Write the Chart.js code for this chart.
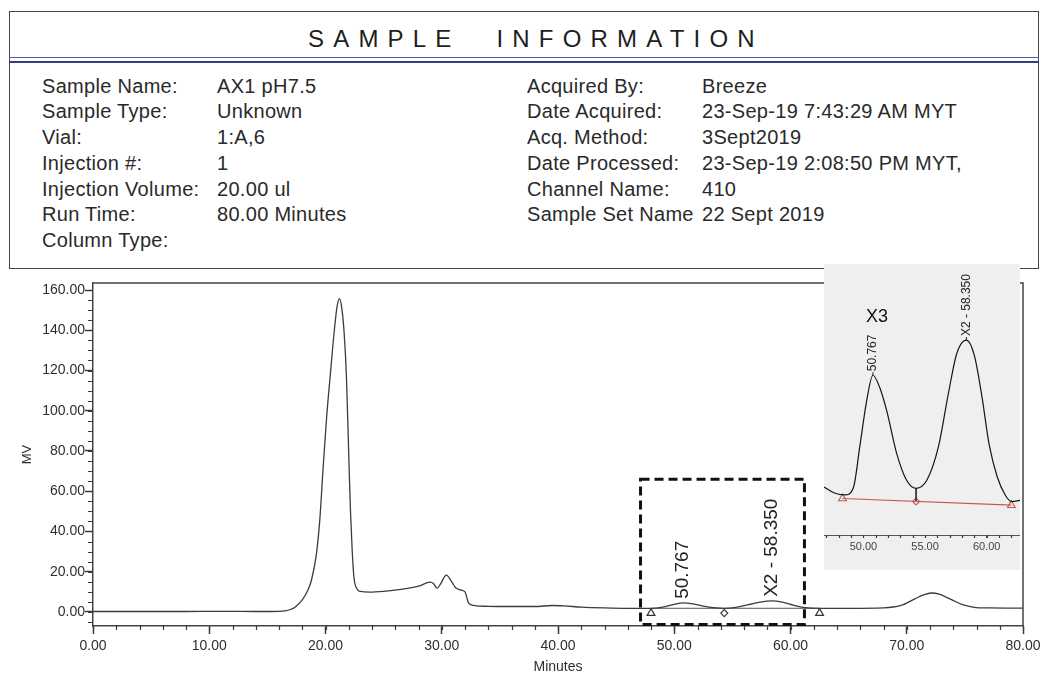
<!DOCTYPE html>
<html>
<head>
<meta charset="utf-8">
<script src="https://cdn.jsdelivr.net/npm/chart.js@4"></script>
<style>
	body { margin: 0; width: 1041px; height: 673px; position: relative; overflow: hidden; background: #fff; font-family: "Liberation Sans", Arial, sans-serif; color: #2a2a2a; }
	#info { position: absolute; left: 9px; top: 11px; width: 1030px; height: 258px; box-sizing: border-box; border: 1.5px solid #444; }
	#title { position: absolute; left: 308px; top: 27px; font-size: 24px; line-height: 24px; letter-spacing: 9.2px; word-spacing: 20px; color: #1e1e1e; white-space: pre; }
	.rule { position: absolute; left: 9px; width: 1030px; }
	.col { position: absolute; top: 73.5px; font-size: 20px; line-height: 25.8px; letter-spacing: 0.3px; white-space: pre; overflow: hidden; }
	#mainWrap { position: absolute; left: 0; top: 270px; }
	#insetWrap { position: absolute; left: 824px; top: 264px; width: 196px; height: 306px; background: #efefef; }
</style>
</head>
<body>
<div id="info"></div>
<div id="title">SAMPLE INFORMATION</div>
<div class="rule" style="top:56.5px;height:1.5px;background:#5555a8"></div>
<div class="rule" style="top:60.5px;height:2px;background:#383888"></div>
<div class="col" id="leftLabels" style="left:42px;width:172px"></div>
<div class="col" id="leftValues" style="left:217px;width:300px"></div>
<div class="col" id="rightLabels" style="left:527px;width:172px"></div>
<div class="col" id="rightValues" style="left:702px;width:320px"></div>
<div id="mainWrap"><canvas id="main" width="1041" height="403"></canvas></div>
<div id="insetWrap"><canvas id="inset" width="196" height="306"></canvas></div>
<script>
// sample information block
const infoLeftLabels = ['Sample Name:', 'Sample Type:', 'Vial:', 'Injection #:', 'Injection Volume:', 'Run Time:', 'Column Type:'];
const infoLeftValues = ['AX1 pH7.5', 'Unknown', '1:A,6', '1', '20.00 ul', '80.00 Minutes', ''];
const infoRightLabels = ['Acquired By:', 'Date Acquired:', 'Acq. Method:', 'Date Processed:', 'Channel Name:', 'Sample Set Name'];
const infoRightValues = ['Breeze', '23-Sep-19 7:43:29 AM MYT', '3Sept2019', '23-Sep-19 2:08:50 PM MYT,', '410', '22 Sept 2019'];

// main chromatogram (minutes, mV)
const mainTimes = [0, 4, 8, 10.5, 11.5, 14, 16, 16.5, 17.0, 17.4, 18.0, 18.5, 18.8, 19.2, 19.5, 19.8, 20.1, 20.4, 20.76, 21.0, 21.2, 21.4, 21.6, 21.8, 22.0, 22.15, 22.3, 22.45, 22.7, 23.0, 23.8, 25, 26.5, 28, 29.0, 29.3, 29.6, 29.9, 30.4, 30.8, 31.2, 31.6, 32.0, 32.3, 32.7, 34, 36, 38, 39.5, 40.5, 42, 44, 46, 48, 49, 50, 50.767, 51.6, 52.6, 53.6, 54.3, 55.3, 56.4, 57.4, 58.35, 59.3, 60.3, 61.3, 62.5, 65, 68, 69.5, 70.7, 71.5, 72.1, 72.8, 73.8, 74.8, 75.8, 77, 80];
const mainSignal = [0.2, 0.2, 0.2, 0.3, 0.3, 0.2, 0.3, 0.5, 1.2, 2.5, 6, 11, 16, 28, 45, 72, 97, 117, 140, 152, 155.7, 151, 139, 117, 78, 50, 30, 17, 11.5, 10.2, 9.8, 10.2, 11.2, 12.8, 14.8, 14.0, 11.7, 14.0, 18.3, 15.5, 12.0, 11.0, 10.0, 4.5, 3.3, 2.8, 2.7, 2.7, 3.2, 3.0, 2.4, 2.0, 1.8, 1.8, 2.4, 3.8, 4.5, 4.0, 2.8, 2.0, 1.8, 2.3, 3.6, 4.9, 5.5, 4.9, 3.3, 2.1, 1.8, 1.8, 2.0, 3.2, 6.5, 8.6, 9.4, 8.8, 6.2, 3.6, 2.3, 2.0, 1.9];
const mainBaseTimes = [48.0, 62.5];
const mainBaseLevels = [1.8, 1.8];
const mainMarkTimes = [48.0, 54.3, 62.5];
const mainMarkLevel = -0.6;
const xTickValues = [0, 10, 20, 30, 40, 50, 60, 70, 80];
const yTickValues = [0, 20, 40, 60, 80, 100, 120, 140, 160];
const zoomRange = [47.1, 61.2];
const zoomLevels = [-6.2, 66];

// peaks
const peakTimes = [50.767, 58.35];
const peakLabels = ['50.767', 'X2 - 58.350'];

// inset (zoomed view of 47-63 min)
const insetTimes = [46.8, 47.6, 48.5, 49.2, 49.7, 50.27, 50.767, 51.3, 51.9, 52.7, 53.5, 54.27, 55.14, 56.08, 56.89, 57.57, 58.35, 59.0, 59.6, 60.2, 60.85, 61.5, 62.03, 62.7];
const insetSignal = [2.05, 1.92, 1.87, 2.05, 2.95, 4.0, 4.56, 4.3, 3.75, 2.8, 2.2, 2.02, 2.2, 2.95, 4.15, 5.05, 5.35, 5.0, 4.1, 3.0, 2.28, 1.87, 1.72, 1.75];
const insetBaseTimes = [48.3, 62.0];
const insetBaseLevels = [1.79, 1.64];
const insetMarkTimes = [48.3, 54.27, 62.0];
const insetMarkLevels = [1.79, 1.725, 1.64];
const insetTickValues = [50, 55, 60];
const insetNote = 'X3';

const FONT = '"Liberation Sans", Arial, sans-serif';

const fillColumn = (id, lines) => {
	document.getElementById(id).textContent = lines.join('\n');
};
fillColumn('leftLabels', infoLeftLabels);
fillColumn('leftValues', infoLeftValues);
fillColumn('rightLabels', infoRightLabels);
fillColumn('rightValues', infoRightValues);

Chart.defaults.font.family = FONT;
Chart.defaults.color = '#333';

const pts = (xs, ys) => xs.map((x, i) => ({ x: x, y: Array.isArray(ys) ? ys[i] : ys }));

// keep the plot edges where the layout padding puts them
const fixHeight = (h) => (s) => {
	s.height = h;
	s.paddingLeft = 0;
	s.paddingRight = 0;
};

// short unlabeled ticks between the labeled ones
const minorTicks = (xStep, xLen, yStep, yLen) => ({
	id: 'minorTicks',
	afterDraw(chart) {
		const { ctx, scales } = chart;
		ctx.save();
		ctx.strokeStyle = '#3a3a3a';
		ctx.lineWidth = 1.2;
		ctx.beginPath();
		const x = scales.x;
		for (let k = Math.ceil(x.min / xStep); k * xStep <= x.max + 1e-9; k++) {
			const px = Math.round(x.getPixelForValue(k * xStep)) + 0.5;
			ctx.moveTo(px, x.top);
			ctx.lineTo(px, x.top + xLen);
		}
		if (yStep) {
			const y = scales.y;
			for (let k = Math.ceil(y.min / yStep); k * yStep <= y.max + 1e-9; k++) {
				const py = Math.round(y.getPixelForValue(k * yStep)) + 0.5;
				ctx.moveTo(y.right - yLen, py);
				ctx.lineTo(y.right, py);
			}
		}
		ctx.stroke();
		ctx.restore();
	},
});

const frame = {
	id: 'frame',
	afterDraw(chart) {
		const { ctx, chartArea: a } = chart;
		ctx.save();
		ctx.strokeStyle = '#444';
		ctx.lineWidth = 1.5;
		ctx.beginPath();
		ctx.moveTo(a.left, a.top);
		ctx.lineTo(a.right, a.top);
		ctx.lineTo(a.right, a.bottom);
		ctx.stroke();
		ctx.restore();
	},
};

const dashedBox = {
	id: 'dashedBox',
	afterDraw(chart) {
		const { ctx, scales: { x, y } } = chart;
		const x0 = x.getPixelForValue(zoomRange[0]);
		const x1 = x.getPixelForValue(zoomRange[1]);
		const y0 = y.getPixelForValue(zoomLevels[1]);
		const y1 = y.getPixelForValue(zoomLevels[0]);
		ctx.save();
		ctx.strokeStyle = '#111';
		ctx.lineWidth = 3;
		ctx.setLineDash([9, 5]);
		ctx.strokeRect(x0, y0, x1 - x0, y1 - y0);
		ctx.restore();
	},
};

const rotatedLabels = (times, signal, size, gap, tick) => ({
	id: 'peakLabels',
	afterDatasetsDraw(chart) {
		const { ctx, scales: { x, y } } = chart;
		ctx.save();
		ctx.fillStyle = '#222';
		ctx.strokeStyle = '#222';
		ctx.lineWidth = 1;
		ctx.font = `${size}px ${FONT}`;
		ctx.textAlign = 'left';
		ctx.textBaseline = 'middle';
		peakTimes.forEach((t, i) => {
			const h = signal[times.indexOf(t)];
			const px = x.getPixelForValue(t);
			const py = y.getPixelForValue(h);
			if (tick) {
				ctx.beginPath();
				ctx.moveTo(px, py);
				ctx.lineTo(px, py - tick);
				ctx.stroke();
			}
			ctx.save();
			ctx.translate(px, py - gap);
			ctx.rotate(-Math.PI / 2);
			ctx.fillText(peakLabels[i], 0, 0);
			ctx.restore();
		});
		ctx.restore();
	},
});

const insetNotePlugin = {
	id: 'insetNote',
	afterDatasetsDraw(chart) {
		const { ctx, scales: { x, y } } = chart;
		const h = insetSignal[insetTimes.indexOf(peakTimes[0])];
		ctx.save();
		ctx.fillStyle = '#111';
		ctx.font = `18px ${FONT}`;
		ctx.textAlign = 'center';
		ctx.textBaseline = 'middle';
		ctx.fillText(insetNote, x.getPixelForValue(peakTimes[0]) + 4, y.getPixelForValue(h) - 58);
		ctx.restore();
	},
};

new Chart(document.getElementById('main'), {
	type: 'line',
	data: {
		datasets: [
			{
				data: pts(mainTimes, mainSignal),
				borderColor: '#3c3c3c',
				borderWidth: 1.3,
				pointRadius: 0,
				cubicInterpolationMode: 'monotone',
			},
			{
				data: pts(mainBaseTimes, mainBaseLevels),
				borderColor: '#555',
				borderWidth: 1,
				pointRadius: 0,
			},
			{
				type: 'scatter',
				data: pts(mainMarkTimes, mainMarkLevel),
				pointStyle: ['triangle', 'rectRot', 'triangle'],
				pointRadius: [4.5, 3.5, 4.5],
				borderColor: '#333',
				backgroundColor: '#fff',
				borderWidth: 1.2,
			},
		],
	},
	options: {
		responsive: false,
		animation: false,
		devicePixelRatio: 1,
		layout: { autoPadding: false, padding: { top: 13, right: 18, left: 0, bottom: 0 } },
		plugins: { legend: { display: false }, tooltip: { enabled: false } },
		scales: {
			x: {
				type: 'linear',
				min: 0,
				max: 80,
				afterBuildTicks: (s) => { s.ticks = xTickValues.map((v) => ({ value: v })); },
				afterFit: fixHeight(47),
				grid: { drawOnChartArea: false, tickLength: 8, tickWidth: 1.5, tickColor: '#3a3a3a' },
				border: { color: '#444', width: 1.5 },
				ticks: { callback: (v) => Number(v).toFixed(2), font: { size: 14 }, color: '#2e2e2e', padding: 4, maxRotation: 0, autoSkip: false },
				title: { display: true, text: 'Minutes', font: { size: 14, lineHeight: 0.9 }, color: '#2e2e2e', padding: { top: 0, bottom: 0 } },
			},
			y: {
				min: -7,
				max: 163.5,
				afterBuildTicks: (s) => { s.ticks = yTickValues.map((v) => ({ value: v })); },
				afterFit: (s) => { s.width = 93; },
				grid: { drawOnChartArea: false, tickLength: 8, tickWidth: 1.5, tickColor: '#3a3a3a' },
				border: { color: '#444', width: 1.5 },
				ticks: { callback: (v) => Number(v).toFixed(2), font: { size: 14 }, color: '#2e2e2e', padding: 0 },
				title: { display: true, text: 'MV', font: { size: 13 }, color: '#2e2e2e', padding: { top: 20, bottom: 0 } },
			},
		},
	},
	plugins: [minorTicks(2, 4, 5, 5), frame, dashedBox, rotatedLabels(mainTimes, mainSignal, 19, 4, 0)],
});

new Chart(document.getElementById('inset'), {
	type: 'line',
	data: {
		datasets: [
			{
				data: pts(insetTimes, insetSignal),
				borderColor: '#151515',
				borderWidth: 1.2,
				pointRadius: 0,
				cubicInterpolationMode: 'monotone',
			},
			{
				data: pts(insetBaseTimes, insetBaseLevels),
				borderColor: '#c65656',
				borderWidth: 1.2,
				pointRadius: 0,
			},
			{
				// drop line from the valley down to the baseline
				data: pts([insetMarkTimes[1], insetMarkTimes[1]], [insetSignal[insetTimes.indexOf(insetMarkTimes[1])], insetMarkLevels[1]]),
				borderColor: '#333',
				borderWidth: 1,
				pointRadius: 0,
			},
			{
				type: 'scatter',
				data: pts(insetMarkTimes, insetMarkLevels),
				pointStyle: ['triangle', 'rectRot', 'triangle'],
				pointRadius: [4.5, 3.5, 4.5],
				borderColor: '#c65656',
				backgroundColor: 'rgba(0,0,0,0)',
				borderWidth: 1.1,
			},
		],
	},
	options: {
		responsive: false,
		animation: false,
		devicePixelRatio: 1,
		layout: { autoPadding: false, padding: 0 },
		plugins: { legend: { display: false }, tooltip: { enabled: false } },
		scales: {
			x: {
				type: 'linear',
				min: 46.8,
				max: 62.7,
				afterBuildTicks: (s) => { s.ticks = insetTickValues.map((v) => ({ value: v })); },
				afterFit: fixHeight(35),
				grid: { drawOnChartArea: false, tickLength: 3, tickWidth: 1, tickColor: '#444' },
				border: { color: '#555', width: 1 },
				ticks: { callback: (v) => Number(v).toFixed(2), font: { size: 11 }, color: '#444', padding: 2, maxRotation: 0, autoSkip: false },
			},
			y: { display: false, min: 0.97, max: 7.06 },
		},
	},
	plugins: [minorTicks(1, 3, 0, 0), rotatedLabels(insetTimes, insetSignal, 12, 4, 3), insetNotePlugin],
});
</script>
</body>
</html>
